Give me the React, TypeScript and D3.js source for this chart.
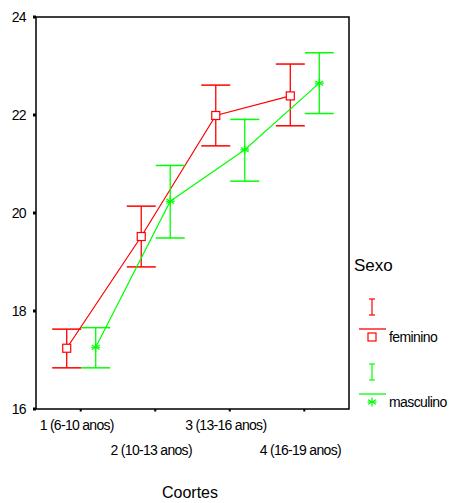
import React, { useEffect, useRef } from "react";
import * as d3 from "d3";

// cohort categories and mean +/- 95% CI per sex
const cohorts = ["1 (6-10 anos)", "2 (10-13 anos)", "3 (13-16 anos)", "4 (16-19 anos)"];
const yTicks = [16, 18, 20, 22, 24];
const femMean = [17.24, 19.52, 21.99, 22.39];
const femLow = [16.84, 18.9, 21.37, 21.78];
const femHigh = [17.63, 20.14, 22.61, 23.04];
const mascMean = [17.26, 20.24, 21.29, 22.65];
const mascLow = [16.84, 19.49, 20.65, 22.03];
const mascHigh = [17.66, 20.97, 21.91, 23.27];

const RED = "#ff0000";
const GREEN = "#00ff00";

export default function App() {
  const ref = useRef<SVGSVGElement>(null);

  useEffect(() => {
    const svg = d3.select(ref.current);
    svg.selectAll("*").remove();

    const left = 36, right = 349, top = 17, bottom = 409;
    const x = d3.scalePoint<string>().domain(cohorts).range([left, right]).padding(0.6);
    const y = d3.scaleLinear().domain([16, 24]).range([bottom, top]);
    const font = "Liberation Sans, Arial, sans-serif";

    // frame
    svg.append("rect")
      .attr("x", left).attr("y", top)
      .attr("width", right - left).attr("height", bottom - top)
      .attr("fill", "none").attr("stroke", "#000").attr("stroke-width", 1.5);

    // y ticks
    const yg = svg.append("g");
    yg.selectAll("rect").data(yTicks).join("rect")
      .attr("x", left - 3).attr("y", (d) => y(d) - 1.5)
      .attr("width", 3).attr("height", 3).attr("fill", "#000");
    yg.selectAll("text").data(yTicks).join("text")
      .attr("x", 26).attr("y", (d) => y(d))
      .attr("dy", "0.35em").attr("text-anchor", "end")
      .attr("font-family", font).attr("font-size", 14)
      .attr("letter-spacing", -0.6)
      .text((d) => d);

    // x ticks
    const xg = svg.append("g");
    xg.selectAll("line").data(cohorts).join("line")
      .attr("x1", (d) => x(d)!).attr("x2", (d) => x(d)!)
      .attr("y1", bottom).attr("y2", bottom + 2.5)
      .attr("stroke", "#000").attr("stroke-width", 2);
    xg.selectAll("text").data(cohorts).join("text")
      .attr("x", (d) => x(d)! - 4)
      .attr("y", (d, i) => (i % 2 === 0 ? 430 : 455))
      .attr("text-anchor", "middle")
      .attr("font-family", font).attr("font-size", 14)
      .attr("letter-spacing", -0.7)
      .text((d) => d);

    svg.append("text")
      .attr("x", 190).attr("y", 498)
      .attr("text-anchor", "middle")
      .attr("font-family", font).attr("font-size", 16)
      .text("Coortes");

    const series = [
      { mean: femMean, low: femLow, high: femHigh, color: RED, dx: -14, marker: "square" },
      { mean: mascMean, low: mascLow, high: mascHigh, color: GREEN, dx: 15, marker: "star" },
    ];

    const cap = 14.5;
    series.forEach((s) => {
      const g = svg.append("g");
      const px = (i: number) => x(cohorts[i])! + s.dx;
      // error bars
      cohorts.forEach((_, i) => {
        const cx = px(i);
        g.append("line").attr("x1", cx).attr("x2", cx)
          .attr("y1", y(s.low[i])).attr("y2", y(s.high[i]))
          .attr("stroke", s.color).attr("stroke-width", 1.3);
        [s.low[i], s.high[i]].forEach((v) => {
          g.append("line").attr("x1", cx - cap).attr("x2", cx + cap)
            .attr("y1", y(v)).attr("y2", y(v))
            .attr("stroke", s.color).attr("stroke-width", 1.5);
        });
      });
      // mean line
      const line = d3.line<number>().x((_, i) => px(i)).y((d) => y(d));
      g.append("path").attr("d", line(s.mean)!)
        .attr("fill", "none").attr("stroke", s.color).attr("stroke-width", 1.2);
      // markers
      s.mean.forEach((v, i) => drawMarker(g, s.marker, px(i), y(v), s.color));
    });

    // legend
    const lg = svg.append("g");
    lg.append("text").attr("x", 354).attr("y", 271)
      .attr("font-family", font).attr("font-size", 17).text("Sexo");
    const legendItems = [
      { label: "feminino", color: RED, marker: "square", y0: 299 },
      { label: "masculino", color: GREEN, marker: "star", y0: 364 },
    ];
    legendItems.forEach((it) => {
      const cx = 372;
      lg.append("line").attr("x1", cx).attr("x2", cx).attr("y1", it.y0).attr("y2", it.y0 + 16)
        .attr("stroke", it.color).attr("stroke-width", 1.2);
      [it.y0, it.y0 + 16].forEach((yy) => {
        lg.append("line").attr("x1", cx - 3).attr("x2", cx + 3).attr("y1", yy).attr("y2", yy)
          .attr("stroke", it.color).attr("stroke-width", 1.2);
      });
      lg.append("line").attr("x1", 359).attr("x2", 386).attr("y1", it.y0 + 30).attr("y2", it.y0 + 30)
        .attr("stroke", it.color).attr("stroke-width", 1.3);
      drawMarker(lg, it.marker, cx, it.y0 + 38, it.color);
      lg.append("text").attr("x", 389).attr("y", it.y0 + 38).attr("dy", "0.35em")
        .attr("font-family", font).attr("font-size", 14).attr("letter-spacing", -0.6)
        .text(it.label);
    });
  }, []);

  return (
    <svg
      ref={ref}
      width={454}
      height={503}
      style={{ position: "absolute", left: 0, top: 0, background: "#fff" }}
    />
  );
}

function drawMarker(g: any, kind: string, cx: number, cy: number, color: string) {
  if (kind === "square") {
    g.append("rect").attr("x", cx - 4).attr("y", cy - 4).attr("width", 8).attr("height", 8)
      .attr("fill", "#fff").attr("stroke", color).attr("stroke-width", 1.2);
  } else {
    const r = 4.5;
    [0, 60, 120].forEach((a) => {
      const rad = (a * Math.PI) / 180;
      g.append("line")
        .attr("x1", cx - r * Math.sin(rad)).attr("y1", cy - r * Math.cos(rad))
        .attr("x2", cx + r * Math.sin(rad)).attr("y2", cy + r * Math.cos(rad))
        .attr("stroke", color).attr("stroke-width", 1.2);
    });
    g.append("line").attr("x1", cx - r).attr("x2", cx + r).attr("y1", cy).attr("y2", cy)
      .attr("stroke", color).attr("stroke-width", 1.2);
  }
}
